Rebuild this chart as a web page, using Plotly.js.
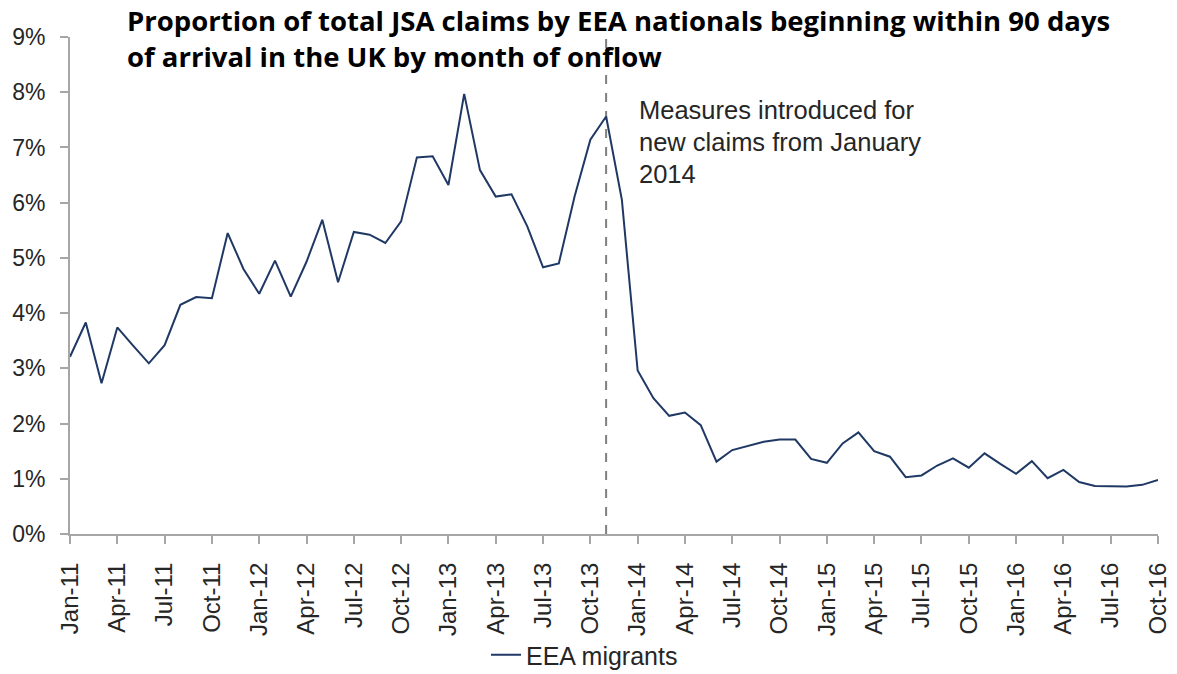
<!DOCTYPE html>
<html>
<head>
<meta charset="utf-8">
<script src="https://cdn.plot.ly/plotly-3.0.1.min.js"></script>
<style>html,body{margin:0;padding:0;background:#fff;}#chart{width:1177px;height:674px;}</style>
</head>
<body>
<div id="chart"></div>
<script>
var monthNames = ["Jan","Feb","Mar","Apr","May","Jun","Jul","Aug","Sep","Oct","Nov","Dec"];
var startYear = 2011;
var monthCount = 70;
var months = [];
for (var k = 0; k < monthCount; k++) {
  var y = startYear + Math.floor(k / 12);
  months.push(monthNames[k % 12] + "-" + String(y).slice(2));
}

var eeaMigrants = [
  3.21, 3.83, 2.73, 3.74, 3.41, 3.09, 3.42, 4.15, 4.29, 4.27, 5.45, 4.80,
  4.35, 4.95, 4.30, 4.93, 5.69, 4.56, 5.47, 5.42, 5.27, 5.66, 6.82, 6.84,
  6.32, 7.97, 6.59, 6.11, 6.15, 5.57, 4.83, 4.90, 6.11, 7.14, 7.56, 6.05,
  2.96, 2.46, 2.14, 2.20, 1.97, 1.31, 1.52, 1.59, 1.67, 1.71, 1.71, 1.36,
  1.29, 1.64, 1.84, 1.50, 1.40, 1.03, 1.06, 1.24, 1.37, 1.20, 1.46, 1.27,
  1.09, 1.32, 1.01, 1.16, 0.94, 0.87, 0.87, 0.86, 0.89, 0.98
];

var tickLabels = ["Jan-11","Apr-11","Jul-11","Oct-11","Jan-12","Apr-12","Jul-12","Oct-12",
  "Jan-13","Apr-13","Jul-13","Oct-13","Jan-14","Apr-14","Jul-14","Oct-14",
  "Jan-15","Apr-15","Jul-15","Oct-15","Jan-16","Apr-16","Jul-16","Oct-16"];
var yTicks = [0,1,2,3,4,5,6,7,8,9];

var measuresMonth = "Nov-13";
var noteLines = ["Measures introduced for", "new claims from January", "2014"];
var titleText = "Proportion of total JSA claims by EEA nationals beginning within 90 days<br>of arrival in the UK by month of onflow";

var lineColor = "#1F3864";
var axisColor = "#A6A6A6";
var textFont = "Liberation Sans, Arial, sans-serif";

var annotations = noteLines.map(function (t, i) {
  return {
    xref: "paper", yref: "paper",
    x: (637 - 70) / 1088, y: (534 - 110 - i * 32) / 497,
    xanchor: "left", yanchor: "middle",
    text: t, showarrow: false,
    font: {family: textFont, size: 25.5, color: "#262626"}
  };
});

var trace = {
  type: "scatter", mode: "lines",
  x: months, y: eeaMigrants,
  name: "EEA migrants",
  line: {color: lineColor, width: 2}
};

var layout = {
  width: 1177, height: 674,
  paper_bgcolor: "#ffffff", plot_bgcolor: "#ffffff",
  margin: {l: 70, r: 19, t: 37, b: 140},
  title: {
    text: titleText,
    xref: "container", yref: "container",
    x: 127 / 1177, xanchor: "left",
    y: 1 - 31 / 674, yanchor: "top",
    font: {family: "Open Sans, sans-serif", size: 27.5, color: "#000000", weight: "bold"}
  },
  showlegend: true,
  legend: {
    orientation: "h",
    xref: "container", yref: "container",
    x: 486 / 1177, xanchor: "left",
    y: 1 - 655 / 674, yanchor: "middle",
    font: {family: textFont, size: 25, color: "#262626"},
    bgcolor: "rgba(0,0,0,0)"
  },
  xaxis: {
    type: "category",
    categoryorder: "array", categoryarray: months,
    range: [0, monthCount - 1],
    automargin: false,
    tickmode: "array", tickvals: tickLabels, ticktext: tickLabels,
    tickangle: -90,
    ticks: "outside", ticklen: 8, tickcolor: axisColor, tickwidth: 2,
    ticklabelstandoff: 9,
    showline: true, linecolor: axisColor, linewidth: 2,
    showgrid: false, zeroline: false,
    tickfont: {family: textFont, size: 24, color: "#262626"}
  },
  yaxis: {
    range: [0, 9],
    automargin: false,
    tickmode: "array", tickvals: yTicks, ticktext: yTicks.map(function (v) { return v + "%"; }),
    ticks: "outside", ticklen: 8, tickcolor: axisColor, tickwidth: 2,
    ticklabelstandoff: 10,
    showline: true, linecolor: axisColor, linewidth: 2,
    showgrid: false, zeroline: false,
    tickfont: {family: textFont, size: 23, color: "#262626"}
  },
  shapes: [{
    type: "line", xref: "x", yref: "y",
    x0: measuresMonth, x1: measuresMonth, y0: 0, y1: 9,
    line: {color: "#7F7F7F", width: 2, dash: "dash"},
    layer: "below"
  }],
  annotations: annotations
};

Plotly.newPlot("chart", [trace], layout, {displayModeBar: false, staticPlot: true});
</script>
</body>
</html>
